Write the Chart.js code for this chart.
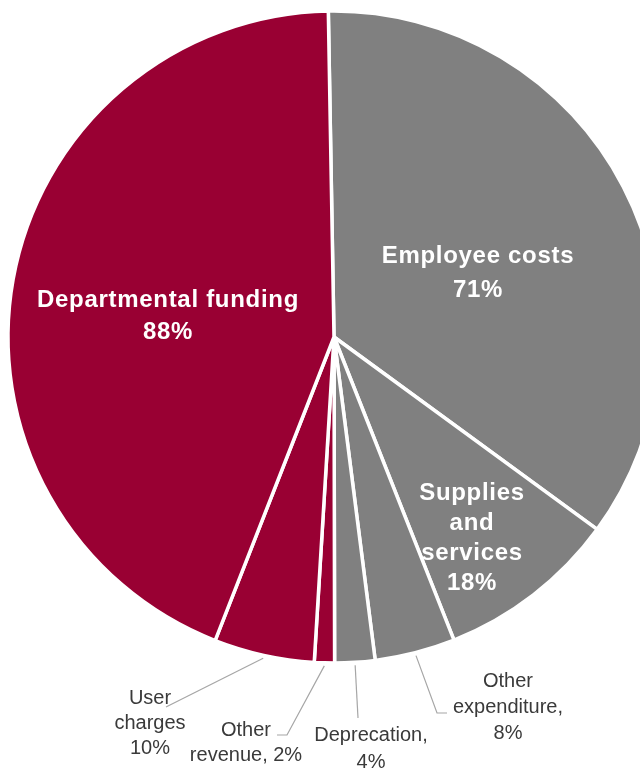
<!DOCTYPE html>
<html>
<head>
<meta charset="utf-8">
<script src="https://cdn.jsdelivr.net/npm/chart.js@4.4.1/dist/chart.umd.min.js"></script>
<style>
  html, body { margin: 0; padding: 0; background: #fff; overflow: hidden; }
  #wrap { width: 640px; height: 771px; overflow: hidden; }
  canvas { display: block; }
</style>
</head>
<body>
<div id="wrap"><canvas id="budget" width="668" height="771"></canvas></div>
<script>
// Expenditure (grey, right half) and revenue (red, left half), each in % of its own total
var categories = ['Employee costs', 'Supplies and services', 'Other expenditure', 'Deprecation', 'Other revenue', 'User charges', 'Departmental funding'];
var shares = [71, 18, 8, 4, 2, 10, 88];
var sliceColors = ['#808080', '#808080', '#808080', '#808080', '#990033', '#990033', '#990033'];
// label text per slice, {v} is replaced by the share
var labelTemplates = [
  'Employee costs\n{v}%',
  'Supplies\nand\nservices\n{v}%',
  'Other\nexpenditure,\n{v}%',
  'Deprecation,\n{v}%',
  'Other\nrevenue, {v}%',
  'User\ncharges\n{v}%',
  'Departmental funding\n{v}%'
];

var FONT = '"Liberation Sans", Arial, sans-serif';

// where each label sits, relative to the pie centre; leader = elbow points for outside labels
var labelLayout = [
  { inside: true, dx: 144, dy: -81, lh: 34 },
  { inside: true, dx: 138, dy: 156, lh: 30 },
  { inside: false, dx: 174, dy: 344, lh: 26, leader: [[103, 376], [113, 376]] },
  { inside: false, dx: 37, dy: 398, lh: 27, leader: [[24, 381]] },
  { inside: false, dx: -88, dy: 393, lh: 25, leader: [[-47, 398], [-57, 398]] },
  { inside: false, dx: -184, dy: 361, lh: 25, leader: [[-168, 370]] },
  { inside: true, dx: -166, dy: -37, lh: 32 }
];

var sliceLabels = {
  id: 'sliceLabels',
  afterDatasetsDraw: function(chart) {
    var ctx = chart.ctx;
    var arcs = chart.getDatasetMeta(0).data;
    ctx.save();
    arcs.forEach(function(arc, i) {
      var p = arc.getProps(['x', 'y', 'startAngle', 'endAngle', 'outerRadius'], true);
      var lay = labelLayout[i];
      var lines = labelTemplates[i].replace('{v}', shares[i]).split('\n');

      if (!lay.inside) {
        var mid = (p.startAngle + p.endAngle) / 2;
        var r = p.outerRadius + 3;
        ctx.beginPath();
        ctx.moveTo(p.x + Math.cos(mid) * r, p.y + Math.sin(mid) * r);
        lay.leader.forEach(function(pt) { ctx.lineTo(p.x + pt[0], p.y + pt[1]); });
        ctx.strokeStyle = '#a6a6a6';
        ctx.lineWidth = 1.2;
        ctx.stroke();
      }

      ctx.textAlign = 'center';
      ctx.textBaseline = 'middle';
      if (lay.inside) {
        ctx.font = 'bold 24px ' + FONT;
        ctx.fillStyle = '#ffffff';
        ctx.letterSpacing = '0.7px';
      } else {
        ctx.font = '20px ' + FONT;
        ctx.fillStyle = '#3a3a3a';
        ctx.letterSpacing = '0px';
      }
      lines.forEach(function(line, k) {
        ctx.fillText(line, p.x + lay.dx, p.y + lay.dy + k * lay.lh);
      });
    });
    ctx.restore();
  }
};

new Chart(document.getElementById('budget'), {
  type: 'pie',
  data: {
    labels: categories,
    datasets: [{
      data: shares,
      backgroundColor: sliceColors,
      borderColor: '#ffffff',
      borderWidth: 3.5
    }]
  },
  options: {
    responsive: false,
    animation: false,
    events: [],
    rotation: -1,
    radius: 326,
    layout: { padding: { top: 0, bottom: 97, left: 0, right: 0 } },
    plugins: {
      legend: { display: false },
      tooltip: { enabled: false }
    }
  },
  plugins: [sliceLabels]
});
</script>
</body>
</html>
